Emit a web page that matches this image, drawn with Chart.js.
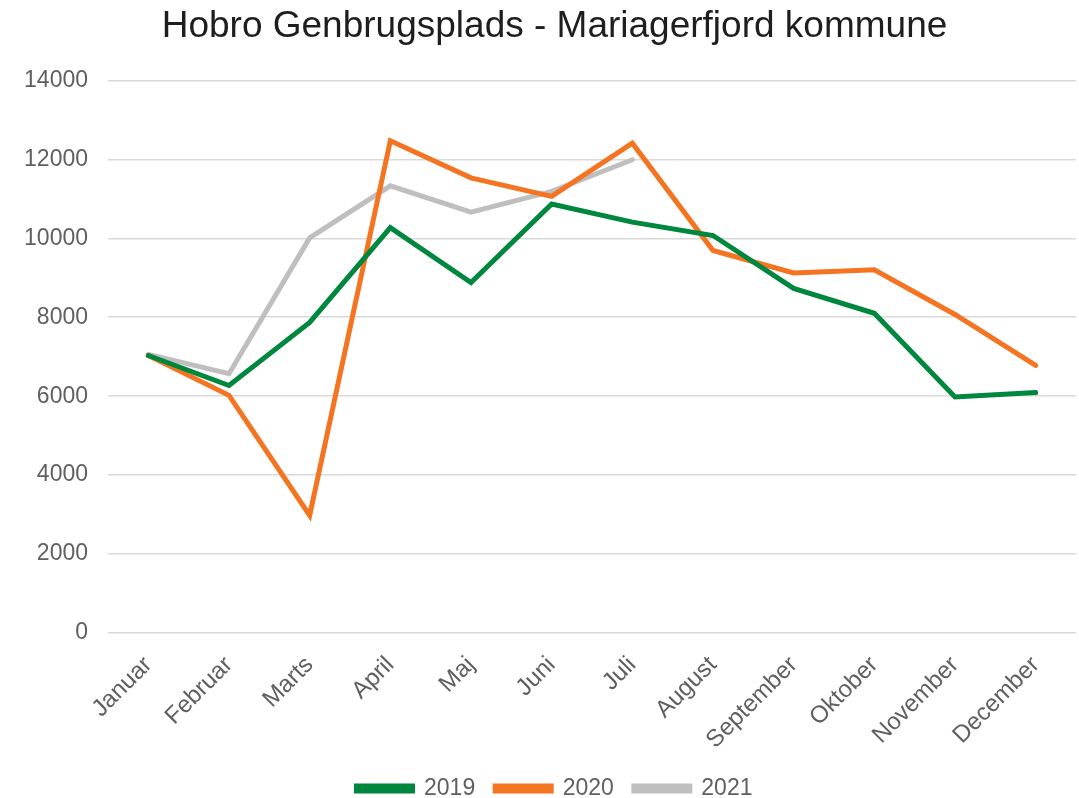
<!DOCTYPE html>
<html>
<head>
<meta charset="utf-8">
<script src="https://cdn.jsdelivr.net/npm/chart.js@4"></script>
<style>
  html, body { margin: 0; padding: 0; background: #fff; }
  #wrap { width: 1079px; height: 798px; }
</style>
</head>
<body>
<div id="wrap"><canvas id="chart"></canvas></div>
<script>
const months = ['Januar', 'Februar', 'Marts', 'April', 'Maj', 'Juni', 'Juli', 'August', 'September', 'Oktober', 'November', 'December'];
const data2019 = [7030, 6270, 7870, 10270, 8880, 10870, 10410, 10070, 8730, 8100, 5980, 6090];
const data2020 = [7030, 6020, 2980, 12470, 11530, 11060, 12410, 9690, 9120, 9200, 8070, 6780];
const data2021 = [7060, 6570, 10010, 11330, 10660, 11190, 11990];
const yTicks = [0, 2000, 4000, 6000, 8000, 10000, 12000, 14000];

const textColor = '#606060';
const family = 'Liberation Sans, Arial, sans-serif';

function serie(label, values, color) {
  return {
    label: label,
    data: values,
    borderColor: color,
    backgroundColor: color,
    borderWidth: 5,
    pointRadius: 0,
    tension: 0,
    borderCapStyle: 'round',
    borderJoinStyle: 'miter'
  };
}

new Chart(document.getElementById('chart'), {
  type: 'line',
  data: {
    labels: months,
    datasets: [
      serie('2019', data2019, '#00873e'),
      serie('2020', data2020, '#f47421'),
      serie('2021', data2021, '#bfbfbf')
    ]
  },
  options: {
    responsive: true,
    maintainAspectRatio: false,
    animation: false,
    // negative right padding + empty right axis: title and legend sit a bit right of centre, like the original
    layout: { padding: { left: 0, right: -30, top: 0, bottom: -12 } },
    plugins: {
      title: {
        display: true,
        text: 'Hobro Genbrugsplads - Mariagerfjord kommune',
        color: '#1e1e1e',
        font: { family: family, size: 37, weight: 'normal' },
        padding: { top: 5, bottom: 31 }
      },
      legend: {
        position: 'bottom',
        labels: {
          color: textColor,
          font: { family: family, size: 23 },
          boxWidth: 56,
          boxHeight: 5,
          padding: 20
        }
      },
      tooltip: { enabled: false }
    },
    scales: {
      x: {
        offset: true,
        afterFit: (axis) => { axis.height = 124; },
        grid: { display: false },
        border: { display: false },
        ticks: { color: textColor, font: { family: family, size: 24 }, maxRotation: 45, minRotation: 45, padding: 10 }
      },
      y: {
        min: 0,
        max: 14000,
        afterBuildTicks: (axis) => { axis.ticks = yTicks.map(v => ({ value: v })); },
        afterFit: (axis) => { axis.width = 108; },
        grid: { color: '#d9d9d9', lineWidth: 1.5, drawTicks: false },
        border: { display: false },
        ticks: {
          color: textColor,
          font: { family: family, size: 23 },
          padding: 20,
          callback: (v) => String(v)
        }
      },
      yRight: {
        position: 'right',
        min: 0,
        max: 14000,
        afterFit: (axis) => { axis.width = 33; },
        grid: { display: false },
        border: { display: false },
        ticks: { display: false }
      }
    }
  }
});
</script>
</body>
</html>
